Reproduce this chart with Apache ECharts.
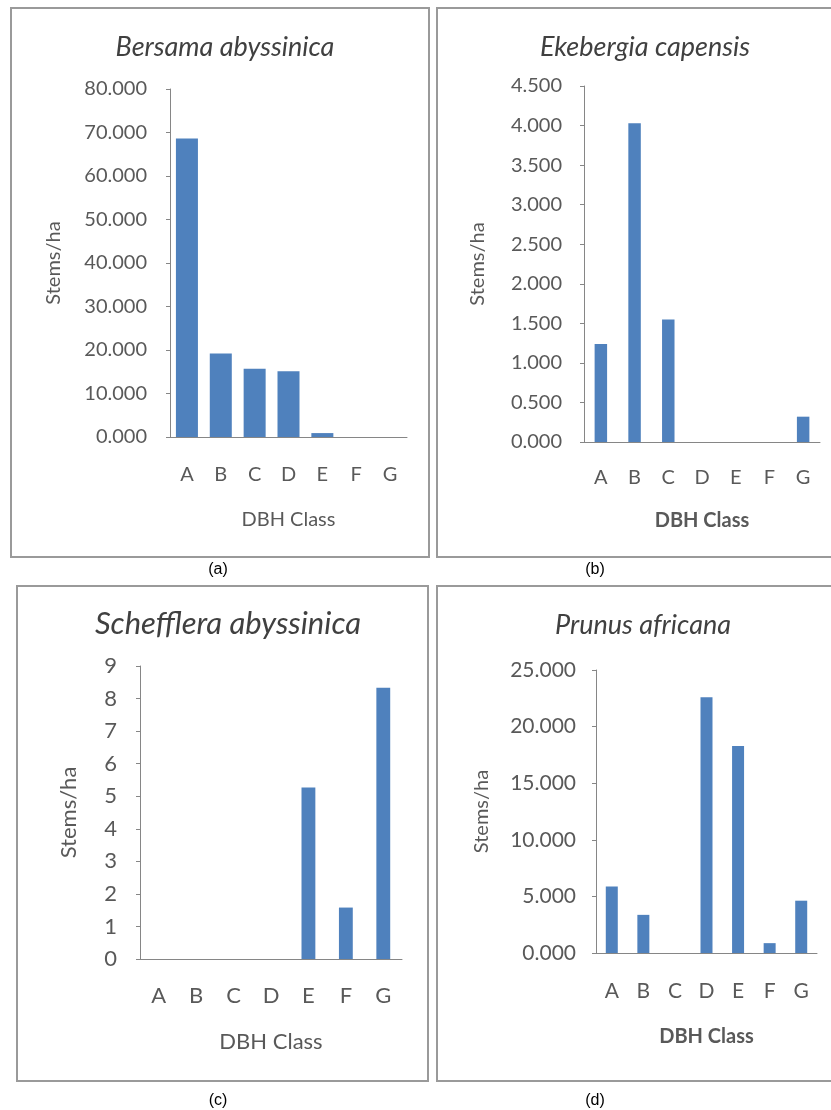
<!DOCTYPE html>
<html>
<head>
<meta charset="utf-8">
<script src="https://cdn.jsdelivr.net/npm/echarts@6/dist/echarts.min.js"></script>
<style>
html,body{margin:0;padding:0;background:#fff;}
#c{width:831px;height:1110px;}
</style>
</head>
<body>
<div id="c"></div>
<script>
const categories = ['A','B','C','D','E','F','G'];
const bersama = [68.6, 19.2, 15.7, 15.1, 0.9, 0, 0];
const ekebergia = [1.24, 4.03, 1.55, 0, 0, 0, 0.32];
const schefflera = [0, 0, 0, 0, 5.27, 1.58, 8.33];
const prunus = [5.88, 3.37, 0, 22.6, 18.28, 0.87, 4.62];
const titles = ['Bersama abyssinica','Ekebergia capensis','Schefflera abyssinica','Prunus africana'];
const captions = ['(a)','(b)','(c)','(d)'];
const yMax = [80, 4.5, 9, 25];
const yStep = [10, 0.5, 1, 5];
const yDecimals = [3, 3, 0, 3];
const yName = 'Stems/ha';
const xName = 'DBH Class';

const FONT = 'Lato';
const GRAY = '#595959';
const BAR = '#4F81BD';
const AXIS = '#868686';

const panels = [
  {grid:{left:170, top:89, width:237, height:348}, lblM:28, yLblM:23, yGap:106, xGap:73, bold:false, gap:'35%', tx:220, ty:46, tfs:27, lfs:20, nfs:20},
  {grid:{left:584, top:86, width:236, height:356}, lblM:26, yLblM:22, yGap:96, xGap:69, bold:true, gap:'63%', tx:640, ty:46, tfs:27, lfs:20, nfs:20},
  {grid:{left:140, top:666, width:262, height:293}, lblM:26, yLblM:23, yGap:60, xGap:72, bold:false, gap:'63%', tx:223, ty:622, tfs:31, lfs:22, nfs:22},
  {grid:{left:596, top:670, width:221, height:283}, lblM:28, yLblM:20, yGap:104, xGap:74, bold:true, gap:'62%', tx:638, ty:624, tfs:27, lfs:21, nfs:20}
];
const seriesData = [bersama, ekebergia, schefflera, prunus];
const capPos = [[213,566],[590,566],[213,1097],[590,1097]];

const option = {
  animation:false,
  backgroundColor:'#fff',
  title: [],
  grid: [], xAxis: [], yAxis: [], series: [],
  graphic: [
    {type:'rect', shape:{x:11, y:8, width:418, height:549}, style:{fill:'none', stroke:'#9a9a9a', lineWidth:2}},
    {type:'rect', shape:{x:437, y:8, width:420, height:549}, style:{fill:'none', stroke:'#9a9a9a', lineWidth:2}},
    {type:'rect', shape:{x:17, y:586, width:411, height:495}, style:{fill:'none', stroke:'#9a9a9a', lineWidth:2}},
    {type:'rect', shape:{x:437, y:586, width:420, height:495}, style:{fill:'none', stroke:'#9a9a9a', lineWidth:2}}
  ]
};

panels.forEach((p, i) => {
  option.title.push({
    text: titles[i], left: p.tx, top: Math.round(p.ty - p.tfs * 0.62), textAlign: 'center',
    textStyle:{fontFamily:FONT, fontStyle:'italic', fontWeight:'normal', fontSize:p.tfs, color:'#404040'}
  });
  option.title.push({
    text: captions[i], left: capPos[i][0], top: capPos[i][1] - 9, textAlign:'center',
    textStyle:{fontFamily:'Liberation Sans', fontWeight:'normal', fontSize:16, color:'#000'}
  });
  option.grid.push(Object.assign({containLabel:false}, p.grid));
  option.xAxis.push({
    type:'category', gridIndex:i, data:categories,
    name: xName, nameLocation:'middle', nameGap:p.xGap,
    nameTextStyle:{fontFamily:FONT, fontSize:p.nfs, color:GRAY, fontWeight: p.bold ? 'bold':'normal'},
    axisLine:{show:true, lineStyle:{color:AXIS, width:1}},
    axisTick:{show:false},
    axisLabel:{fontFamily:FONT, fontSize:p.lfs, color:GRAY, margin:p.lblM}
  });
  option.yAxis.push({
    type:'value', gridIndex:i, min:0, max:yMax[i], interval:yStep[i],
    name: yName, nameLocation:'middle', nameGap:p.yGap,
    nameTextStyle:{fontFamily:FONT, fontSize:p.nfs, color:GRAY},
    axisLine:{show:true, lineStyle:{color:AXIS, width:1}},
    axisTick:{show:true, length:4, lineStyle:{color:AXIS}},
    splitLine:{show:false},
    axisLabel:{fontFamily:FONT, fontSize:p.lfs, color:GRAY, margin:p.yLblM,
      formatter: v => v.toFixed(yDecimals[i])}
  });
  option.series.push({
    type:'bar', xAxisIndex:i, yAxisIndex:i, data:seriesData[i],
    barCategoryGap:p.gap, itemStyle:{color:BAR}
  });
});

const chart = echarts.init(document.getElementById('c'), null, {renderer:'canvas'});
chart.setOption(option);
</script>
</body>
</html>
